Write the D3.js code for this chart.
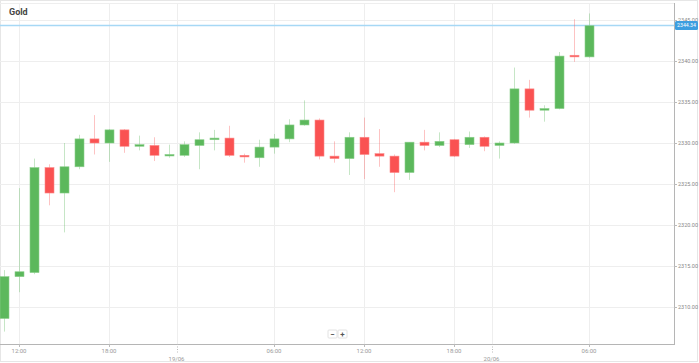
<!DOCTYPE html>
<meta charset="utf-8">
<script src="https://d3js.org/d3.v7.min.js"></script>
<style>
  body { margin: 0; background: #fff; }
  text { font-family: Roboto, "Noto Sans", sans-serif; }
</style>
<div id="chart"></div>
<script>
// hourly candles, index 0..39
const opens  = [2308.6, 2313.7, 2314.2, 2327.0, 2323.9, 2327.1, 2330.5, 2330.0, 2331.6, 2329.6,
                2329.7, 2328.5, 2328.5, 2329.7, 2330.4, 2330.6, 2328.5, 2328.2, 2329.5, 2330.5,
                2332.2, 2332.8, 2328.4, 2328.1, 2330.7, 2328.7, 2328.4, 2326.4, 2330.1, 2329.7,
                2330.4, 2329.8, 2330.7, 2329.7, 2330.0, 2336.6, 2334.0, 2334.2, 2340.7, 2340.5];
const highs  = [2314.5, 2324.5, 2328.1, 2327.4, 2330.0, 2331.0, 2333.4, 2331.7, 2331.7, 2330.9,
                2330.7, 2329.8, 2330.2, 2331.3, 2331.6, 2332.1, 2328.7, 2330.4, 2331.1, 2332.9,
                2335.2, 2333.0, 2330.2, 2331.3, 2333.1, 2331.7, 2328.6, 2330.1, 2331.6, 2331.3,
                2330.5, 2331.4, 2330.8, 2330.2, 2339.2, 2337.7, 2334.6, 2341.1, 2345.1, 2345.8];
const lows   = [2307.0, 2311.8, 2314.0, 2322.4, 2319.1, 2326.8, 2328.6, 2327.7, 2328.8, 2329.1,
                2327.8, 2328.2, 2328.3, 2326.8, 2329.1, 2328.3, 2327.6, 2327.1, 2328.7, 2330.1,
                2332.1, 2328.0, 2327.6, 2326.1, 2325.6, 2327.1, 2324.0, 2325.5, 2329.1, 2329.5,
                2328.3, 2329.4, 2329.0, 2328.1, 2329.9, 2333.1, 2332.6, 2334.1, 2339.9, 2340.4];
const closes = [2313.7, 2314.3, 2327.0, 2323.9, 2327.1, 2330.5, 2330.0, 2331.6, 2329.6, 2329.8,
                2328.5, 2328.6, 2329.8, 2330.4, 2330.6, 2328.5, 2328.3, 2329.5, 2330.5, 2332.2,
                2332.8, 2328.4, 2328.1, 2330.7, 2328.6, 2328.4, 2326.4, 2330.1, 2329.7, 2330.2,
                2328.4, 2330.7, 2329.6, 2330.0, 2336.6, 2334.0, 2334.2, 2340.6, 2340.5, 2344.3];

const priceTicks = [2310, 2315, 2320, 2325, 2330, 2335, 2340, 2345];
const timeTickIdx = [1, 7, 18, 24, 30, 39];
const timeTickLabels = ["12:00", "18:00", "06:00", "12:00", "18:00", "06:00"];
const dateTickIdx = [11.5, 32.5];
const dateTickLabels = ["19/06", "20/06"];
const lastPrice = 2344.34;
const title = "Gold";

const W = 699, H = 363;
const plot = {left: 0, right: 674, top: 3, bottom: 344};

const svg = d3.select("#chart").append("svg")
  .attr("width", W).attr("height", H);

const x = d3.scaleLinear().domain([0, 39]).range([4, 589]);
const y = d3.scaleLinear().domain([2310, 2345]).range([307, 20]);

// outer frame
svg.append("rect")
  .attr("x", 0.5).attr("y", 0.5).attr("width", W - 2).attr("height", H - 2)
  .attr("fill", "none").attr("stroke", "#e6e6e6");

const defs = svg.append("defs");
defs.append("clipPath").attr("id", "clip")
  .append("rect")
  .attr("x", plot.left).attr("y", plot.top)
  .attr("width", plot.right - plot.left).attr("height", plot.bottom - plot.top);

// grid
const grid = svg.append("g");
grid.selectAll("line.h").data(priceTicks).join("line")
  .attr("x1", plot.left).attr("x2", plot.right)
  .attr("y1", d => Math.round(y(d)) + 0.5).attr("y2", d => Math.round(y(d)) + 0.5)
  .attr("stroke", "#eeeeee");
grid.selectAll("line.v").data(timeTickIdx.concat(dateTickIdx)).join("line")
  .attr("x1", d => Math.round(x(d)) + 0.5).attr("x2", d => Math.round(x(d)) + 0.5)
  .attr("y1", plot.top).attr("y2", plot.bottom)
  .attr("stroke", "#eeeeee");
grid.append("line")
  .attr("x1", plot.left).attr("x2", plot.right)
  .attr("y1", plot.top + 0.5).attr("y2", plot.top + 0.5)
  .attr("stroke", "#eeeeee");

// current price line
svg.append("line")
  .attr("x1", plot.left).attr("x2", plot.right)
  .attr("y1", y(lastPrice)).attr("y2", y(lastPrice))
  .attr("stroke", "#a6d8f5").attr("stroke-width", 1.5);

// candles
const candles = opens.map((o, i) => ({i, o, h: highs[i], l: lows[i], c: closes[i]}));
const up = "#5cb85c", down = "#fa5252";
const cg = svg.append("g").attr("clip-path", "url(#clip)");
cg.selectAll("line.wick").data(candles).join("line")
  .attr("x1", d => Math.round(x(d.i)) + 0.5).attr("x2", d => Math.round(x(d.i)) + 0.5)
  .attr("y1", d => y(d.h)).attr("y2", d => y(d.l))
  .attr("stroke", d => d.c >= d.o ? up : down)
  .attr("stroke-opacity", 0.35);
cg.selectAll("rect.body").data(candles).join("rect")
  .attr("x", d => Math.round(x(d.i)) - 4)
  .attr("width", 9)
  .attr("y", d => y(Math.max(d.o, d.c)))
  .attr("height", d => Math.max(1.5, Math.abs(y(d.o) - y(d.c))))
  .attr("fill", d => d.c >= d.o ? up : down)
  .attr("stroke", d => d.c >= d.o ? "#8ccf8c" : "#fc8a8a")
  .attr("stroke-width", 0.6);

// axes lines
svg.append("line")
  .attr("x1", plot.right + 0.5).attr("x2", plot.right + 0.5)
  .attr("y1", plot.top).attr("y2", plot.bottom + 1)
  .attr("stroke", "#b5b5b5").attr("stroke-width", 1);
svg.append("line")
  .attr("x1", plot.left).attr("x2", plot.right + 1)
  .attr("y1", plot.bottom + 0.5).attr("y2", plot.bottom + 0.5)
  .attr("stroke", "#b5b5b5").attr("stroke-width", 1);

// right axis ticks + labels
const ya = svg.append("g");
ya.selectAll("line").data(priceTicks).join("line")
  .attr("x1", plot.right).attr("x2", plot.right + 3)
  .attr("y1", d => Math.round(y(d)) + 0.5).attr("y2", d => Math.round(y(d)) + 0.5)
  .attr("stroke", "#bbb");
ya.selectAll("text").data(priceTicks).join("text")
  .attr("x", plot.right + 4).attr("y", d => y(d) + 2)
  .attr("font-size", 5.5).attr("fill", "#888")
  .text(d => d3.format(".2f")(d));

// last price label
const lp = svg.append("g").attr("transform", `translate(${plot.right + 1},${y(lastPrice)})`);
lp.append("rect").attr("x", 0).attr("y", -4.5).attr("width", 23).attr("height", 9)
  .attr("rx", 1.5).attr("fill", "#3d9ee0");
lp.append("text").attr("x", 11.5).attr("y", 2).attr("text-anchor", "middle")
  .attr("font-size", 5.2).attr("fill", "#fff")
  .text(d3.format(".2f")(lastPrice));

// bottom axis ticks + labels
const xa = svg.append("g");
xa.selectAll("line.t").data(timeTickIdx).join("line")
  .attr("x1", d => Math.round(x(d)) + 0.5).attr("x2", d => Math.round(x(d)) + 0.5)
  .attr("y1", plot.bottom).attr("y2", plot.bottom + 3)
  .attr("stroke", "#bbb");
xa.selectAll("text.t").data(timeTickIdx).join("text")
  .attr("x", d => x(d)).attr("y", plot.bottom + 9)
  .attr("text-anchor", "middle").attr("font-size", 6).attr("fill", "#999")
  .text((d, k) => timeTickLabels[k]);
xa.selectAll("line.d").data(dateTickIdx).join("line")
  .attr("x1", d => Math.round(x(d)) + 0.5).attr("x2", d => Math.round(x(d)) + 0.5)
  .attr("y1", plot.bottom).attr("y2", plot.bottom + 10)
  .attr("stroke", "#bbb").attr("stroke-dasharray", "1,1.5");
xa.selectAll("text.d").data(dateTickIdx).join("text")
  .attr("x", d => x(d)).attr("y", plot.bottom + 17)
  .attr("text-anchor", "middle").attr("font-size", 6).attr("fill", "#999")
  .text((d, k) => dateTickLabels[k]);

// zoom buttons
const zb = svg.append("g").attr("transform", "translate(328,330)");
["\u2212", "+"].forEach((s, k) => {
  zb.append("rect").attr("x", k * 10).attr("y", 0).attr("width", 9).attr("height", 8)
    .attr("fill", "#fff").attr("stroke", "#e2e2e2").attr("rx", 1);
  zb.append("text").attr("x", k * 10 + 4.5).attr("y", 6.5).attr("text-anchor", "middle")
    .attr("font-size", 8).attr("font-weight", "bold").attr("fill", "#555").text(s);
});

// title
svg.append("text").attr("x", 9).attr("y", 15)
  .attr("font-size", 9).attr("font-weight", "bold").attr("fill", "#444")
  .text(title);
</script>
